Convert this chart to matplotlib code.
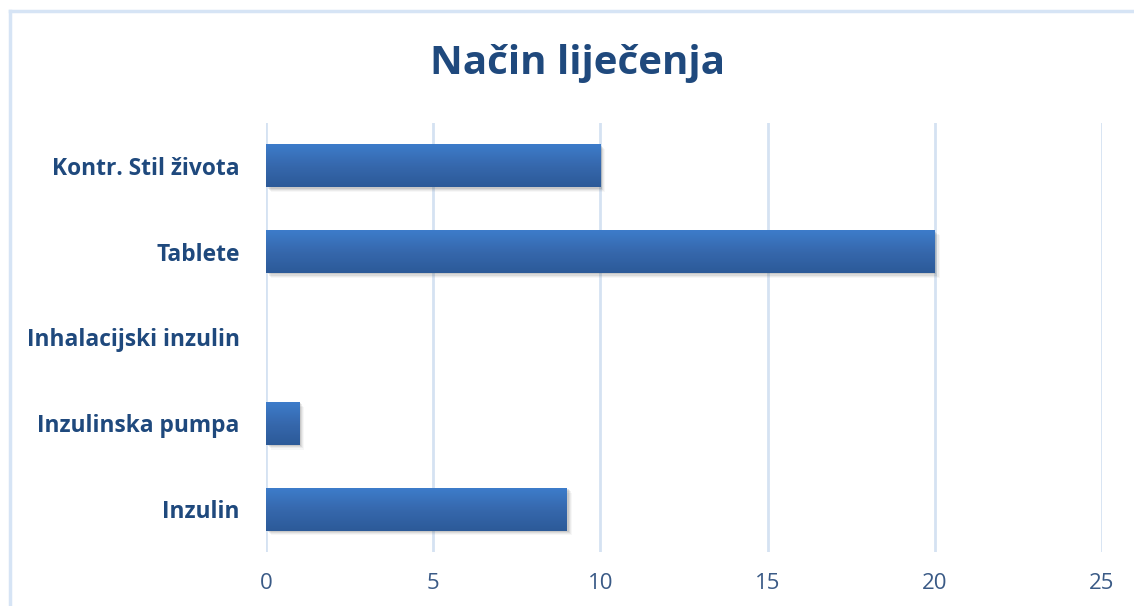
import matplotlib.pyplot as plt
import numpy as np
from matplotlib.lines import Line2D
from matplotlib.patches import Rectangle
from matplotlib.colors import LinearSegmentedColormap

# data (bottom to top)
categories = ["Inzulin", "Inzulinska pumpa", "Inhalacijski inzulin", "Tablete", "Kontr. Stil života"]
values = [9, 1, 0, 20, 10]
xticks = [0, 5, 10, 15, 20, 25]

title_color = "#1F497D"
tick_color = "#3A5A86"
grid_color = "#D5E2F2"

plt.rcParams['font.family'] = ['Open Sans', 'DejaVu Sans']

fig = plt.figure(figsize=(11.34, 6.06), dpi=100)
ax = fig.add_axes([0.2346, 0.0891, 0.7372, 0.708])

ypos = np.arange(len(categories))
bar_h = 0.5
bars = ax.barh(ypos, values, height=bar_h, color="none", edgecolor="none", zorder=3)

# gradient fill + soft shadow for each bar
grad = np.linspace(0, 1, 64).reshape(-1, 1)
cmap = LinearSegmentedColormap.from_list("barg", ["#3D7CCA", "#3668AD", "#2C5A98"])
for b in bars:
    w = b.get_width()
    y0 = b.get_y()
    if w <= 0:
        continue
    # shadow
    for i, a in enumerate([0.12, 0.09, 0.06, 0.04]):
        off = 0.015 + i * 0.014
        sh = Rectangle((0.05 + i * 0.03, y0 - off), w, bar_h, facecolor="#404040",
                       edgecolor="none", alpha=a, zorder=2)
        ax.add_patch(sh)
    im = ax.imshow(grad, aspect="auto", cmap=cmap, extent=(0, w, y0, y0 + bar_h),
                   origin="upper", zorder=3, interpolation="bicubic")
    clip = Rectangle((0, y0), w, bar_h, transform=ax.transData)
    im.set_clip_path(clip)

ax.set_xlim(0, 25)
ax.set_ylim(-0.5, 4.5)
ax.set_xticks(xticks)
ax.set_yticks(ypos)
ax.set_yticklabels(categories)
ax.grid(axis="x", color=grid_color, linewidth=2, zorder=0)
ax.set_axisbelow(True)
for s in ax.spines.values():
    s.set_visible(False)
ax.tick_params(axis="both", length=0)
ax.tick_params(axis="x", pad=15, labelsize=16, labelcolor=tick_color)
ax.tick_params(axis="y", pad=19, labelsize=16.4, labelcolor=title_color)
for lab in ax.get_yticklabels():
    lab.set_fontweight("bold")

fig.text(0.509, 0.895, "Način liječenja", ha="center", va="center",
         fontsize=29, fontweight="bold", color=title_color)

# chart border (top and left visible)
fig.add_artist(Line2D([0.0085, 1.0], [1 - 11 / 606, 1 - 11 / 606], color="#D6E4F5", linewidth=2.5))
fig.add_artist(Line2D([0.0085, 0.0085], [0, 1 - 11 / 606], color="#D6E4F5", linewidth=2.5))

fig.savefig("out.png", dpi=100)
